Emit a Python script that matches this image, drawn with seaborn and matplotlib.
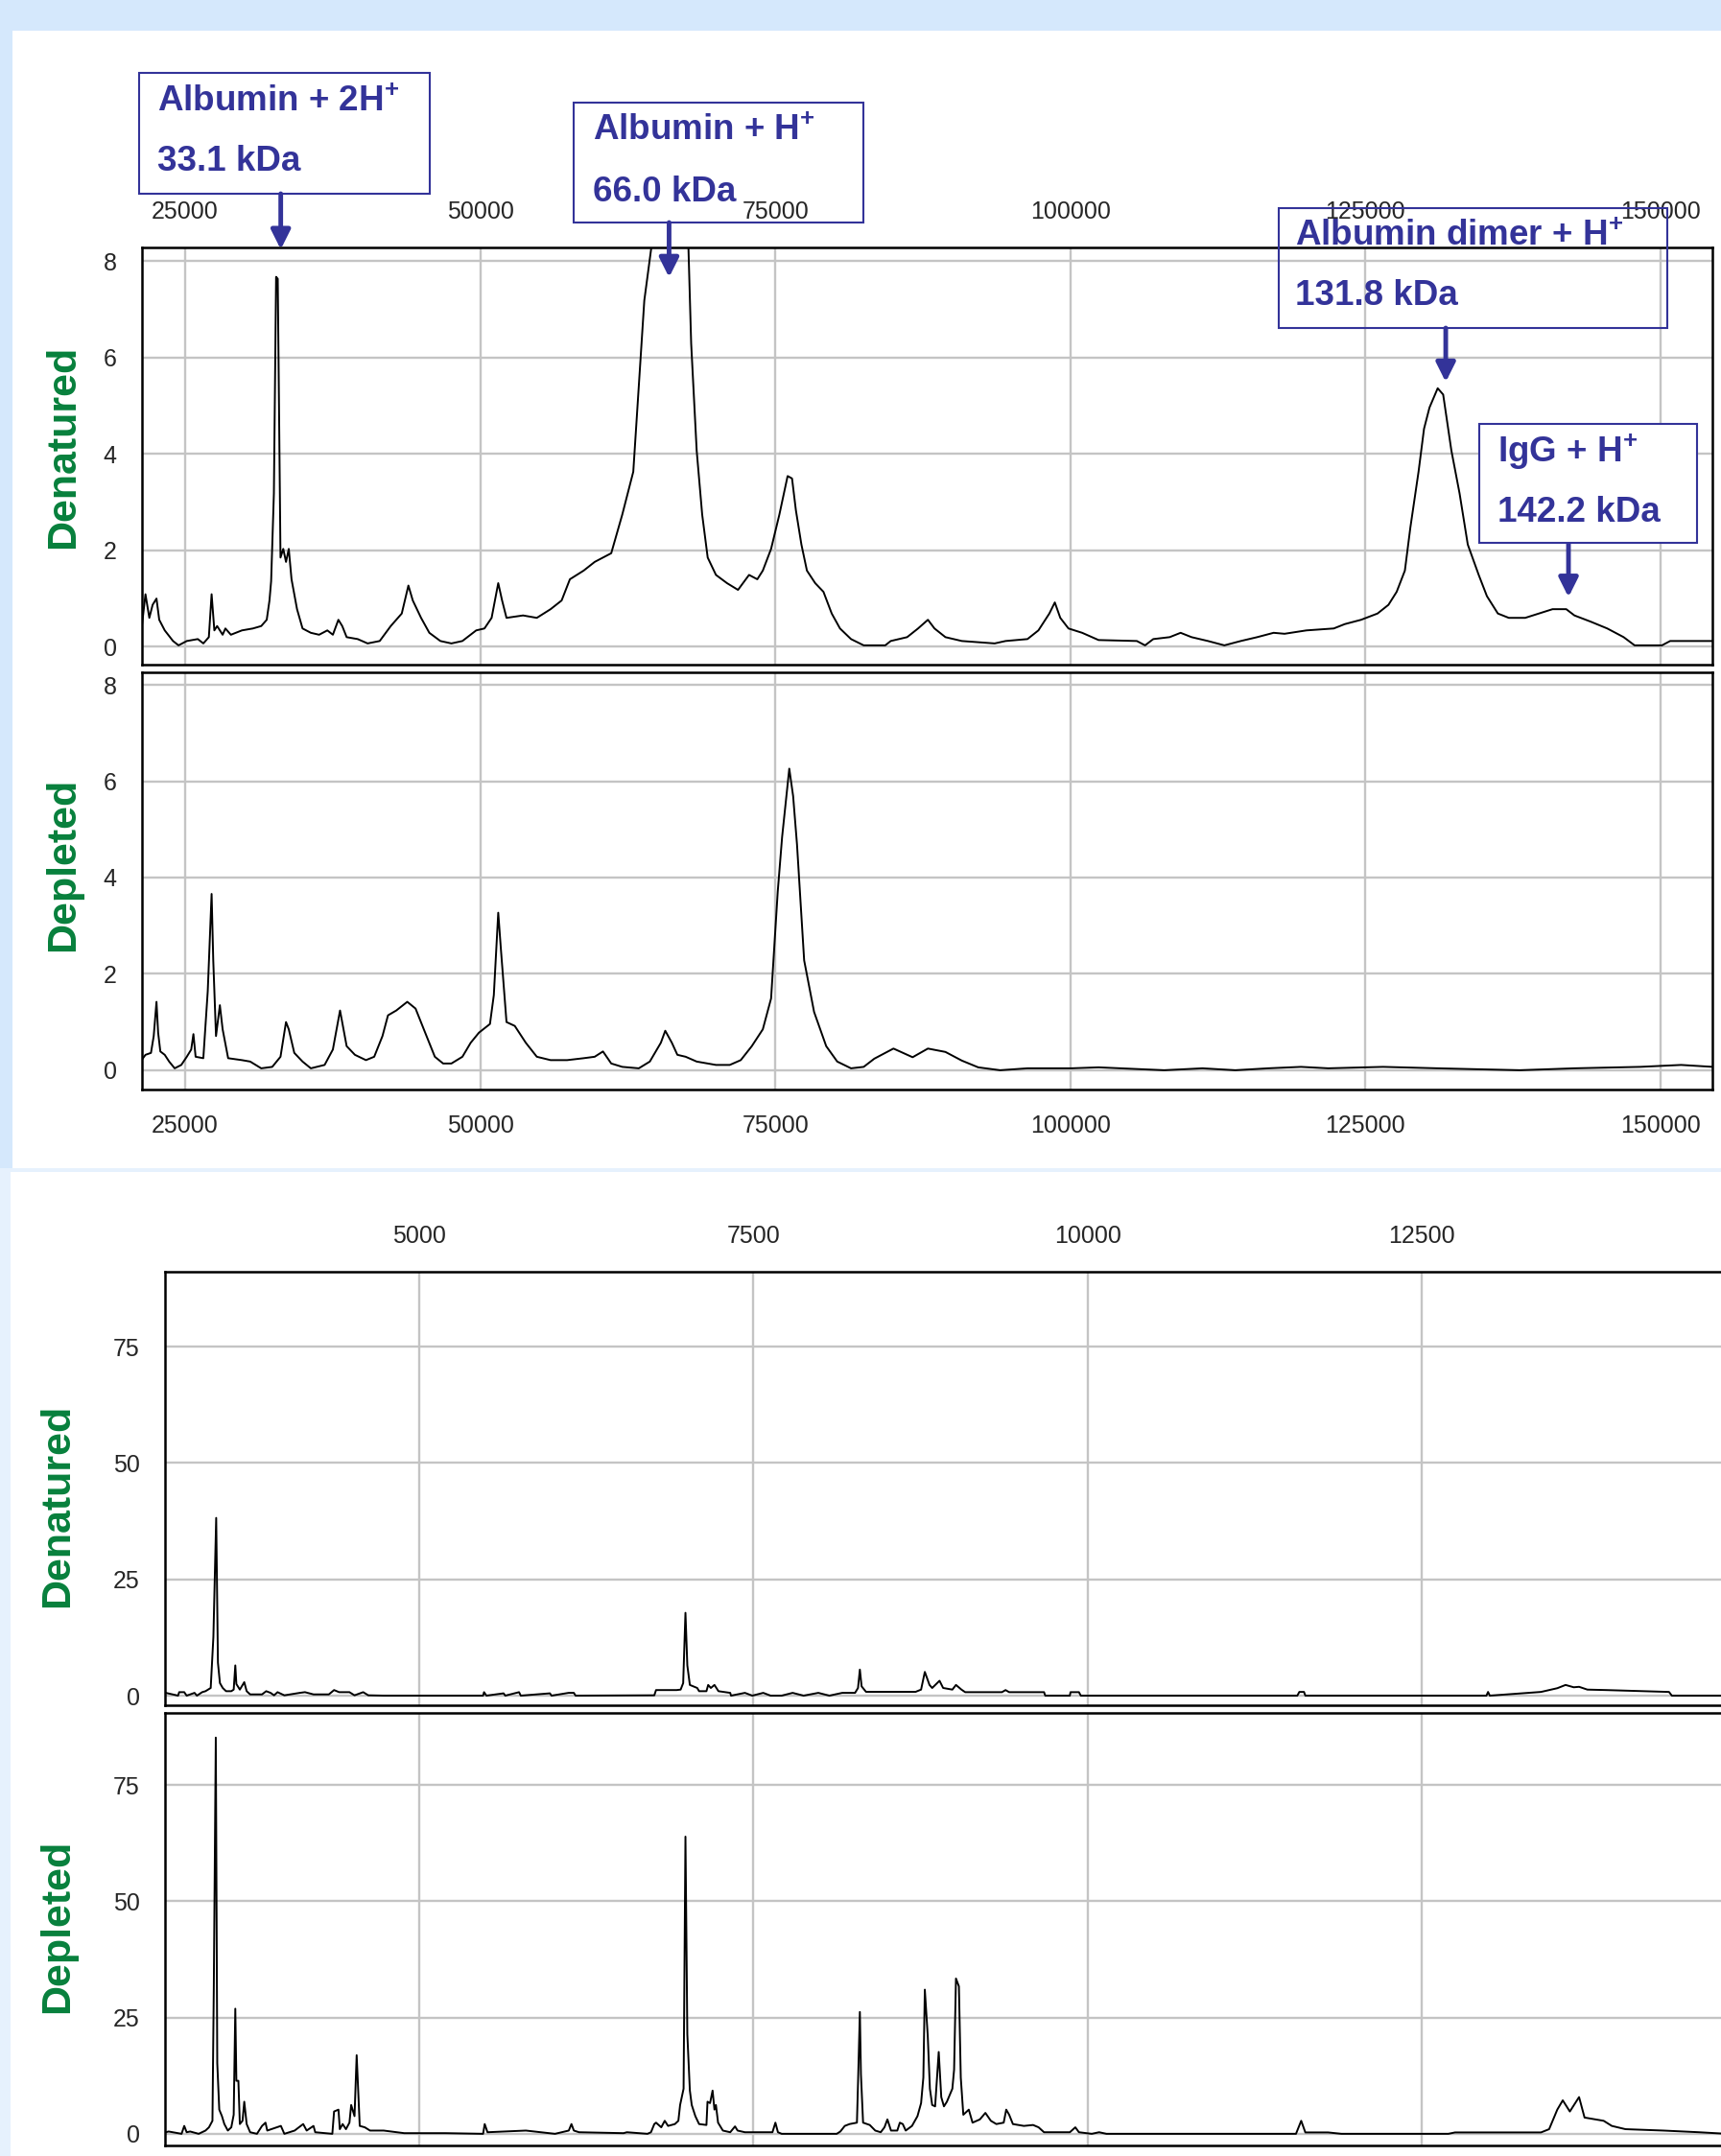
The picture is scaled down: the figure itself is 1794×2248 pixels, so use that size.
import matplotlib
matplotlib.use("Agg")
import matplotlib.pyplot as plt
from matplotlib.patches import Rectangle
import seaborn as sns

# ---- high-mass range (Da), intensities ----
den_hi_mass = [21311, 21638, 21965, 22245, 22572, 22805, 23272, 23973, 24440, 25140, 26074, 26541, 27008, 27242,
               27475, 27709, 28176, 28409, 28876, 29810, 30744, 31445, 31912, 32145, 32285, 32519, 32706, 32846,
               32939, 33079, 33313, 33546, 33780, 34013, 34480, 34947, 35648, 36348, 37049, 37516, 37983, 38310,
               38683, 39617, 40458, 41485, 42419, 43353, 43914, 44287, 44988, 45688, 46622, 47556, 48490, 49658,
               50358, 50965, 51526, 51853, 52226, 53627, 54795, 55962, 56896, 57597, 58764, 59698, 61099, 62033,
               62967, 63434, 63901, 64508, 65200, 66000, 66800, 67637, 67871, 68338, 68805, 69272, 69972, 70906,
               71840, 72774, 73475, 73942, 74642, 75343, 76043, 76417, 76744, 77211, 77678, 78378, 79079, 79779,
               80480, 81414, 82488, 84315, 84778, 86168, 87095, 87929, 88485, 89412, 90802, 93583, 94509, 96363,
               97290, 98217, 98680, 99143, 99838, 100997, 102387, 105631, 106326, 107021, 108411, 109338, 110265,
               111655, 113045, 114436, 115826, 117216, 118143, 119996, 122313, 123240, 124630, 126021, 126947,
               127643, 128338, 128801, 129496, 129960, 130423, 131118, 131582, 132277, 132972, 133667, 134594,
               135289, 136216, 137143, 138533, 139691, 140850, 142008, 142703, 144093, 145483, 146873, 147800,
               150118, 150812, 154427]
den_hi_int = [0.38, 1.09, 0.60, 0.87, 1.00, 0.56, 0.34, 0.12, 0.03, 0.12, 0.16, 0.07, 0.20, 1.09,
              0.34, 0.43, 0.25, 0.38, 0.25, 0.34, 0.38, 0.43, 0.56, 0.96, 1.36, 3.18, 7.67, 7.63,
              5.40, 1.85, 2.03, 1.76, 2.03, 1.40, 0.78, 0.38, 0.29, 0.25, 0.34, 0.25, 0.56, 0.43,
              0.20, 0.16, 0.07, 0.12, 0.43, 0.69, 1.27, 0.96, 0.60, 0.29, 0.12, 0.07, 0.12, 0.34,
              0.38, 0.60, 1.32, 0.96, 0.60, 0.65, 0.60, 0.78, 0.96, 1.40, 1.58, 1.76, 1.94, 2.74,
              3.63, 5.40, 7.18, 8.30, 9.60, 10.20, 9.60, 8.30, 6.29, 4.07, 2.74, 1.85, 1.49, 1.32,
              1.18, 1.49, 1.40, 1.58, 2.03, 2.74, 3.54, 3.49, 2.83, 2.12, 1.58, 1.32, 1.14, 0.69,
              0.38, 0.16, 0.03, 0.03, 0.12, 0.20, 0.38, 0.56, 0.38, 0.20, 0.12, 0.07, 0.12, 0.16,
              0.34, 0.69, 0.92, 0.60, 0.38, 0.29, 0.14, 0.12, 0.03, 0.16, 0.20, 0.29, 0.20,
              0.12, 0.03, 0.12, 0.20, 0.29, 0.27, 0.34, 0.38, 0.47, 0.56, 0.69, 0.87,
              1.14, 1.58, 2.47, 3.63, 4.52, 4.96, 5.36, 5.23, 4.07, 3.18, 2.12, 1.49,
              1.05, 0.69, 0.60, 0.60, 0.69, 0.78, 0.78, 0.65, 0.52, 0.38, 0.20, 0.03,
              0.03, 0.12, 0.12]

dep_hi_mass = [21311, 21638, 22105, 22338, 22572, 22712, 22899, 23272, 23646, 24113, 24673, 25140, 25514, 25701,
               25887, 26541, 26915, 27242, 27382, 27615, 27942, 28176, 28643, 29810, 30511, 31445, 32379, 33079,
               33546, 33780, 34247, 34947, 35648, 36815, 37516, 38123, 38683, 39384, 40318, 41018, 41719, 42186,
               42886, 43820, 44521, 45221, 46155, 46856, 47556, 48490, 49191, 49891, 50825, 51152, 51526, 51759,
               52226, 52927, 53861, 54795, 55962, 57363, 58764, 59698, 60399, 61099, 62033, 63434, 64368, 65302,
               65676, 66236, 66703, 67404, 68338, 69972, 71140, 72074, 73008, 73942, 74642, 75203, 75576, 76183,
               76510, 76837, 77444, 78285, 79312, 80246, 81414, 82488, 83388, 85010, 86632, 87929, 89412, 90802,
               92193, 94046, 96363, 100070, 102387, 104241, 107948, 111192, 113972, 116753, 119533, 121850,
               126484, 131118, 138069, 142703, 148264, 151739, 154427]
dep_hi_int = [0.21, 0.32, 0.36, 0.71, 1.42, 0.78, 0.39, 0.32, 0.18, 0.04, 0.11, 0.28, 0.43, 0.75,
              0.28, 0.25, 1.64, 3.66, 2.28, 0.71, 1.35, 0.85, 0.25, 0.21, 0.18, 0.04, 0.07, 0.28,
              1.00, 0.85, 0.36, 0.18, 0.04, 0.11, 0.43, 1.24, 0.50, 0.32, 0.21, 0.28, 0.71, 1.14,
              1.24, 1.42, 1.28, 0.85, 0.28, 0.14, 0.14, 0.28, 0.57, 0.78, 0.96, 1.56, 3.27, 2.49,
              1.00, 0.92, 0.57, 0.28, 0.21, 0.21, 0.25, 0.28, 0.39, 0.14, 0.07, 0.04, 0.18, 0.57,
              0.82, 0.57, 0.32, 0.28, 0.18, 0.11, 0.11, 0.21, 0.50, 0.85, 1.49, 3.70, 4.84, 6.26,
              5.69, 4.69, 2.28, 1.21, 0.50, 0.18, 0.04, 0.07, 0.24, 0.45, 0.27, 0.45, 0.38, 0.20,
              0.06, 0.00, 0.04, 0.04, 0.06, 0.04, 0.00, 0.04, 0.00, 0.04, 0.07, 0.04,
              0.07, 0.04, 0.00, 0.04, 0.07, 0.11, 0.07]

# ---- low-mass range (Da) ----
den_lo_mass = [3104, 3196, 3204, 3242, 3260, 3319, 3337, 3376, 3401, 3440, 3460, 3481, 3494, 3509, 3530, 3555,
               3594, 3612, 3624, 3632, 3658, 3691, 3709, 3735, 3824, 3855, 3888, 3914, 3940, 3991, 4106, 4145,
               4209, 4324, 4363, 4401, 4478, 4516, 4581, 4619, 4734, 5478, 5485, 5503, 5631, 5644, 5747, 5760,
               5978, 5990, 6118, 6157, 6170, 6759, 6772, 6926, 6956, 6975, 6992, 7006, 7025, 7080, 7094, 7149,
               7162, 7182, 7209, 7239, 7327, 7333, 7437, 7492, 7574, 7629, 7712, 7794, 7876, 7986, 8069, 8165,
               8261, 8283, 8297, 8310, 8343, 8714, 8755, 8783, 8818, 8838, 8893, 8920, 8989, 9016, 9057, 9085,
               9360, 9387, 9414, 9675, 9684, 9868, 9873, 9936, 9950, 11570, 11585, 11620, 11630, 12985, 12997,
               13010, 13393, 13515, 13577, 13638, 13678, 13740, 13882, 14351, 14372, 14783]
den_lo_int = [0.6, 0.0, 0.75, 0.75, 0.0, 0.6, 0.0, 0.75, 0.96, 1.65, 12.6, 38.2, 7.1, 2.7, 1.65, 0.96,
              0.96, 1.3, 6.5, 2.5, 1.3, 2.9, 0.96, 0.27, 0.27, 0.96, 0.6, 0.07, 0.75, 0.07, 0.6, 0.75,
              0.27, 0.27, 1.2, 0.75, 0.75, 0.07, 0.75, 0.07, 0.0, 0.0, 0.75, 0.0, 0.5, 0.0, 0.75, 0.0,
              0.5, 0.0, 0.6, 0.6, 0.0, 0.07, 1.2, 1.2, 1.3, 2.7, 17.8, 6.5, 2.3, 1.65, 0.96, 0.96,
              2.3, 1.65, 2.3, 0.96, 0.6, 0.0, 0.6, 0.0, 0.6, 0.0, 0.0, 0.6, 0.0, 0.6, 0.0, 0.6,
              0.6, 1.65, 5.6, 2.0, 0.82, 0.82, 1.3, 5.1, 2.3, 1.65, 3.2, 1.65, 1.3, 2.3, 1.3, 0.75,
              0.75, 1.2, 0.75, 0.75, 0.0, 0.0, 0.75, 0.75, 0.0, 0.0, 0.8, 0.8, 0.0, 0.0, 0.8,
              0.0, 0.8, 1.6, 2.3, 1.8, 1.9, 1.3, 1.2, 0.8, 0.0, 0.0]

dep_lo_mass = [3104, 3125, 3222, 3242, 3260, 3286, 3350, 3401, 3427, 3453, 3463, 3478, 3489, 3504, 3524, 3542,
               3568, 3594, 3612, 3624, 3632, 3647, 3658, 3678, 3691, 3709, 3735, 3786, 3824, 3850, 3863, 3965,
               3991, 4068, 4132, 4158, 4209, 4222, 4350, 4363, 4396, 4406, 4427, 4452, 4478, 4491, 4516, 4532,
               4545, 4555, 4593, 4632, 4734, 4888, 5196, 5478, 5490, 5511, 5798, 6016, 6119, 6139, 6157, 6196,
               6529, 6554, 6708, 6734, 6759, 6772, 6811, 6837, 6862, 6913, 6939, 6952, 6978, 6992, 7006, 7025,
               7039, 7066, 7094, 7149, 7157, 7176, 7195, 7209, 7220, 7236, 7272, 7327, 7363, 7382, 7437, 7643,
               7665, 7684, 7712, 8124, 8151, 8184, 8220, 8275, 8283, 8297, 8305, 8321, 8371, 8412, 8453, 8481,
               8503, 8530, 8577, 8596, 8618, 8640, 8687, 8728, 8755, 8772, 8783, 8805, 8821, 8838, 8860, 8871,
               8887, 8906, 8926, 8948, 8989, 9002, 9016, 9038, 9052, 9071, 9112, 9140, 9195, 9236, 9277, 9318,
               9373, 9392, 9414, 9442, 9524, 9593, 9634, 9675, 9868, 9909, 9936, 10032, 10087, 10142, 11560,
               11599, 11630, 11800, 11900, 12700, 12750, 13393, 13454, 13515, 13556, 13609, 13678, 13719, 13800,
               13862, 13923, 14025, 14310, 14575, 14783]
dep_lo_int = [0.34, 0.5, 0.0, 1.7, 0.34, 0.5, 0.0, 0.7, 1.4, 2.8, 31.0, 85.2, 15.2, 5.2, 3.8, 2.1,
              0.7, 1.4, 4.1, 26.9, 11.4, 11.4, 2.1, 2.8, 6.9, 2.1, 0.34, 0.0, 1.7, 2.4, 0.7, 1.7,
              0.0, 0.7, 2.1, 0.7, 1.7, 0.34, 0.0, 4.8, 5.2, 1.0, 2.1, 1.0, 2.4, 6.2, 3.8, 16.9,
              8.3, 1.7, 1.4, 0.7, 0.7, 0.14, 0.14, 0.0, 2.1, 0.34, 0.7, 0.0, 0.7, 2.1, 0.7, 0.34,
              0.14, 0.34, 0.0, 0.34, 2.1, 2.4, 1.4, 2.8, 1.7, 2.1, 2.8, 6.2, 9.7, 63.9, 21.4, 9.3,
              6.2, 3.8, 2.1, 1.9, 6.9, 6.6, 9.3, 5.2, 6.2, 2.4, 0.7, 0.34, 1.6, 0.7, 0.34, 0.34,
              2.4, 0.34, 0.0, 0.0, 0.5, 1.7, 2.1, 2.4, 10.7, 26.2, 12.8, 2.4, 1.9, 0.7, 0.34, 1.4,
              3.1, 0.7, 0.7, 2.4, 2.1, 0.7, 1.7, 3.8, 6.6, 12.1, 31.0, 21.0, 9.7, 6.2, 5.9, 10.7,
              17.6, 7.9, 5.9, 6.9, 9.7, 13.8, 33.4, 31.7, 12.1, 4.1, 5.2, 2.4, 3.1, 4.5, 2.8, 2.1,
              2.4, 5.2, 4.1, 2.1, 1.7, 1.9, 1.4, 0.34, 0.34, 1.4, 0.34, 0.0, 0.34, 0.0, 0.0,
              2.8, 0.3, 0.3, 0.0, 0.0, 0.3, 0.3, 1.0, 5.2, 7.2, 4.8, 7.9, 3.5, 3.1,
              2.8, 1.7, 1.0, 0.7, 0.34, 0.0]

hi_xticks = [25000, 50000, 75000, 100000, 125000, 150000]
hi_xlabels = ['25000', '50000', '75000', '100000', '125000', '150000']
hi_yticks = [0, 2, 4, 6, 8]
lo_xticks = [5000, 7500, 10000, 12500]
lo_xlabels = ['5000', '7500', '10000', '12500']
lo_yticks = [0, 25, 50, 75]

# peak annotations (top panel)
ann_title = ['Albumin + 2H$^{+}$', 'Albumin + H$^{+}$', 'Albumin dimer + H$^{+}$', 'IgG + H$^{+}$']
ann_mass_text = ['33.1 kDa', '66.0 kDa', '131.8 kDa', '142.2 kDa']
ann_mass = [33100, 66000, 131800, 142200]
ann_tip = [8.24, 7.66, 5.49, 1.03]

# ---- layout (pixels) ----
W, H = 1794, 2248
navy = '#333399'
green = '#07803c'
grid_c = '#c4c4c4'

sns.set_style("white")
plt.rcParams['font.family'] = ['Liberation Sans', 'DejaVu Sans']
plt.rcParams['mathtext.fontset'] = 'custom'
plt.rcParams['mathtext.rm'] = 'Liberation Sans:bold'
plt.rcParams['mathtext.it'] = 'Liberation Sans:bold'
plt.rcParams['mathtext.bf'] = 'Liberation Sans:bold'

fig = plt.figure(figsize=(W / 100, H / 100), dpi=100, facecolor='#d5e8fc')


def px_rect(x0, y0, x1, y1, **kw):
    return Rectangle((x0 / W, 1 - y1 / H), (x1 - x0) / W, (y1 - y0) / H,
                     transform=fig.transFigure, **kw)


# white panels behind the two spectra blocks
fig.add_artist(px_rect(13, 32, W, 1218, facecolor='white', edgecolor='none', zorder=-2))
fig.add_artist(px_rect(0, 1218, W, H, facecolor='#e6f1fd', edgecolor='none', zorder=-2))
fig.add_artist(px_rect(11, 1222, W, H, facecolor='white', edgecolor='none', zorder=-1))


def make_ax(x0, y0, x1, y1):
    return fig.add_axes([x0 / W, 1 - y1 / H, (x1 - x0) / W, (y1 - y0) / H])


def draw_panel(ax, mass, inten, xlim, ylim, xticks, xlabels, yticks, where):
    sns.lineplot(x=mass, y=inten, ax=ax, color='black', linewidth=1.4, estimator=None, sort=False)
    ax.set_xlim(*xlim)
    ax.set_ylim(*ylim)
    ax.set_xticks(xticks)
    ax.set_yticks(yticks)
    ax.set_yticklabels([str(v) for v in yticks])
    ax.grid(True, color=grid_c, linewidth=1.7)
    ax.set_axisbelow(True)
    ax.set_xlabel('')
    ax.set_ylabel('')
    ax.tick_params(axis='y', length=0, labelsize=18, pad=19)
    if where == 'top':
        ax.set_xticklabels(xlabels)
        ax.tick_params(axis='x', length=0, labelsize=18, pad=18,
                       top=True, labeltop=True, bottom=False, labelbottom=False)
    elif where == 'bottom':
        ax.set_xticklabels(xlabels)
        ax.tick_params(axis='x', length=0, labelsize=18, pad=19)
    else:
        ax.tick_params(axis='x', length=0, labelbottom=False)
    for s in ax.spines.values():
        s.set_color('black')
        s.set_linewidth(1.8)


ax1 = make_ax(148, 258, 1785, 693)
draw_panel(ax1, den_hi_mass, den_hi_int, (21343, 154389), (-0.37, 8.28), hi_xticks, hi_xlabels, hi_yticks, 'top')
ax2 = make_ax(148, 701, 1785, 1136)
draw_panel(ax2, dep_hi_mass, dep_hi_int, (21343, 154389), (-0.40, 8.26), hi_xticks, hi_xlabels, hi_yticks, 'bottom')
ax3 = make_ax(172, 1326, 1800, 1778)
draw_panel(ax3, den_lo_mass, den_lo_int, (3098, 14783), (-2.06, 91.1), lo_xticks, lo_xlabels, lo_yticks, 'top')
ax4 = make_ax(172, 1786, 1800, 2237)
draw_panel(ax4, dep_lo_mass, dep_lo_int, (3098, 14783), (-2.5, 90.5), lo_xticks, lo_xlabels, lo_yticks, 'none')

# green row labels
for txt, x, y in [('Denatured', 66, 466), ('Depleted', 66, 901), ('Denatured', 60, 1570), ('Depleted', 60, 2008)]:
    fig.text(x / W, 1 - y / H, txt, rotation=90, ha='center', va='center',
             fontsize=31, fontweight='bold', color=green)

# annotation boxes: (left, top, right, bottom, text x, line1 y, line2 y, filled)
boxes = [(145, 76, 448, 202, 164, 106, 169, False),
         (598, 107, 900, 232, 618, 136, 200, False),
         (1333, 217, 1738, 342, 1350, 247, 309, False),
         (1542, 442, 1769, 566, 1561, 471, 534, True)]

for i, (bx0, by0, bx1, by1, tx, ty1, ty2, filled) in enumerate(boxes):
    fig.add_artist(px_rect(bx0, by0, bx1, by1, facecolor='white' if filled else 'none',
                           edgecolor=navy, linewidth=1.5, zorder=5))
    fig.text(tx / W, 1 - ty1 / H, ann_title[i], ha='left', va='center', fontsize=26.5,
             fontweight='bold', color=navy, zorder=6)
    fig.text(tx / W, 1 - ty2 / H, ann_mass_text[i], ha='left', va='center', fontsize=26.5,
             fontweight='bold', color=navy, zorder=6)
    ax_x = ax1.transData.transform((ann_mass[i], 0))[0]
    ax1.annotate('', xy=(ann_mass[i], ann_tip[i]), xycoords='data',
                 xytext=(ax_x, H - by1), textcoords='figure pixels',
                 arrowprops=dict(arrowstyle='-|>', color=navy, lw=3.5, mutation_scale=30,
                                 shrinkA=0, shrinkB=0),
                 annotation_clip=False, zorder=7)

fig.savefig('out.png', dpi=100, facecolor=fig.get_facecolor())
